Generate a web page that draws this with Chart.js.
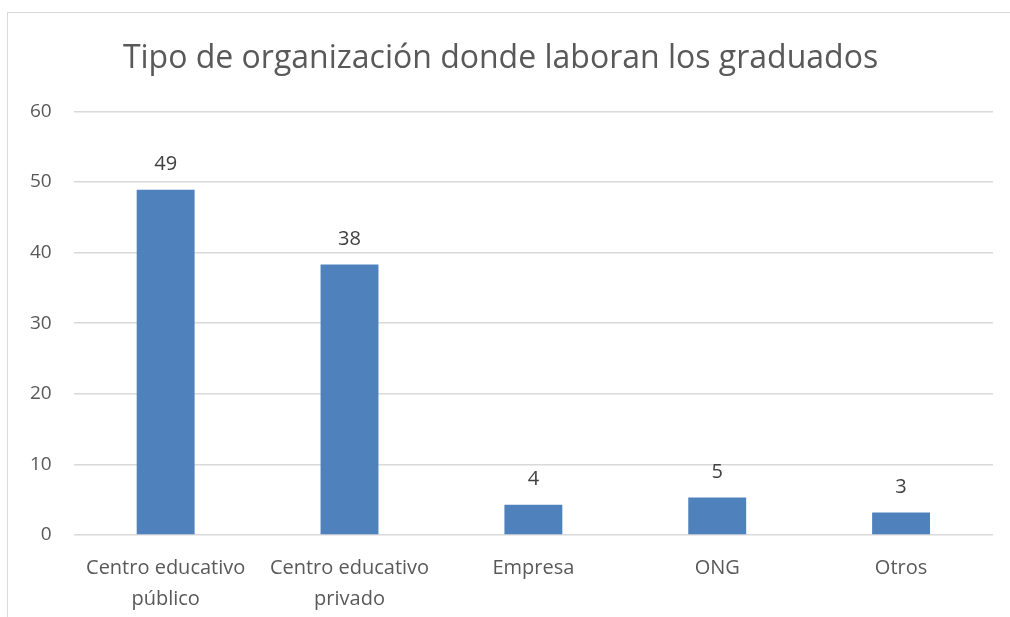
<!DOCTYPE html>
<html>
<head>
<meta charset="utf-8">
<script src="https://cdn.jsdelivr.net/npm/chart.js@4"></script>
<style>
  body { margin: 0; background: #fff; }
  #frame {
    position: absolute; left: 7px; top: 12px; width: 1003px; height: 605px;
    border-left: 1px solid #d9d9d9; border-top: 1px solid #d9d9d9;
  }
</style>
</head>
<body>
<div id="frame"><canvas id="chart" width="1002" height="604"></canvas></div>
<script>
// --- Data ---
const categories = [
  ["Centro educativo", "público"],
  ["Centro educativo", "privado"],
  "Empresa",
  "ONG",
  "Otros"
];
const percentages = [48.9, 38.3, 4.3, 5.3, 3.2];
const yTicks = [0, 10, 20, 30, 40, 50, 60];

const FONT = "'Open Sans', sans-serif";

// --- Value labels above bars ---
const barLabels = {
  id: "barLabels",
  afterDatasetsDraw(chart) {
    const ctx = chart.ctx;
    const meta = chart.getDatasetMeta(0);
    ctx.save();
    ctx.font = "20px " + FONT;
    ctx.fillStyle = "#404040";
    ctx.textAlign = "center";
    ctx.textBaseline = "middle";
    meta.data.forEach((bar, i) => {
      ctx.fillText(Math.round(percentages[i]), bar.x, bar.y - 25);
    });
    ctx.restore();
  }
};

new Chart(document.getElementById("chart"), {
  type: "bar",
  data: {
    labels: categories,
    datasets: [{
      data: percentages,
      backgroundColor: "#4f81bd",
      barPercentage: 0.315,
      categoryPercentage: 1
    }]
  },
  options: {
    responsive: false,
    animation: false,
    layout: { padding: { left: 0, right: 17, top: 0, bottom: 4 } },
    plugins: {
      legend: { display: false },
      tooltip: { enabled: false },
      title: {
        display: true,
        text: "Tipo de organización donde laboran los graduados",
        color: "#595959",
        font: { family: FONT, size: 32, weight: "normal" },
        padding: { top: 27, bottom: 33 }
      }
    },
    scales: {
      x: {
        grid: { display: false },
        border: { display: false },
        afterFit: axis => { axis.height = 78; },
        ticks: {
          color: "#595959",
          font: { family: FONT, size: 20, lineHeight: 1.55 },
          padding: 10,
          maxRotation: 0,
          autoSkip: false
        }
      },
      y: {
        min: 0,
        max: 60,
        afterBuildTicks: axis => { axis.ticks = yTicks.map(v => ({ value: v })); },
        grid: { color: "#d9d9d9", lineWidth: 1.5, drawTicks: false },
        border: { display: false },
        ticks: {
          color: "#595959",
          font: { family: FONT, size: 19 },
          padding: 22
        }
      }
    }
  },
  plugins: [barLabels]
});
</script>
</body>
</html>
